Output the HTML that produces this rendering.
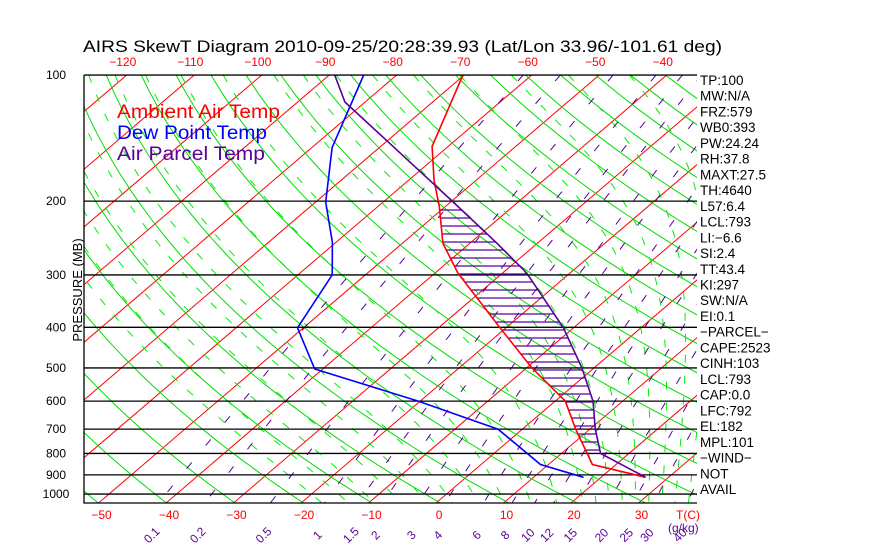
<!DOCTYPE html>
<html><head><meta charset="utf-8"><style>
body{margin:0;background:#fff;}
svg{display:block;font-family:"Liberation Sans",sans-serif;}
</style></head><body>
<svg id="chart" width="870" height="560" viewBox="0 0 870 560" xmlns="http://www.w3.org/2000/svg">
<defs><clipPath id="pc"><rect x="84" y="75" width="613" height="428"/></clipPath></defs>
<rect width="870" height="560" fill="#fff"/>
<text x="83" y="52" font-size="17" textLength="639" lengthAdjust="spacingAndGlyphs">AIRS SkewT Diagram 2010-09-25/20:28:39.93 (Lat/Lon 33.96/-101.61 deg)</text>
<g id="grid" clip-path="url(#pc)"></g>
<g id="prof" clip-path="url(#pc)"></g>
<g id="labels"></g>
<text transform="translate(82,290) rotate(-90)" font-size="13" text-anchor="middle">PRESSURE (MB)</text>
<text x="117" y="118" font-size="19" fill="#ff0000" textLength="163" lengthAdjust="spacingAndGlyphs">Ambient Air Temp</text>
<text x="117" y="139" font-size="19" fill="#0000ff" textLength="150" lengthAdjust="spacingAndGlyphs">Dew Point Temp</text>
<text x="117" y="160" font-size="19" fill="#5a0099" textLength="148" lengthAdjust="spacingAndGlyphs">Air Parcel Temp</text>
</svg>
<script>
// data
const isoTemps=[-120,-110,-100,-90,-80,-70,-60,-50,-40,-30,-20,-10,0,10,20,30,40];
const pressureLevels=[100,200,300,400,500,600,700,800,900,1000];
const dryThetaK=[220,230,240,250,260,270,280,290,300,310,320,330,340,350,360,370,380,390,400,410,420,430,440,450,460,470,480,490,500];
const moistThetaW=[-20,-16,-12,-8,-4,0,4,8,12,16,20,22,24,26,28,30,32,34,36];
const mixRatios=[0.1,0.2,0.5,1,1.5,2,3,4,6,8,10,12,15,20,25,30,40];
const topTicks=[-120,-110,-100,-90,-80,-70,-60,-50,-40];
const bottomTicks=[-50,-40,-30,-20,-10,0,10,20,30];
const tempP=[100,148,178,206,252,297,401,500,600,700,850,912];
const tempT=[-70.2,-62.4,-56.3,-50.9,-44.0,-36.6,-20.9,-9.2,1.5,7.9,16.5,26.6];
const dewP=[100,149,201,251,300,401,503,600,700,850,912];
const dewT=[-84.9,-77.0,-68.5,-60.5,-54.9,-50.9,-41.2,-20.3,-3.6,8.8,17.4];
const parP=[100,116,201,252,297,401,500,600,700,800,912];
const parT=[-89.2,-83.0,-49.6,-36.0,-26.4,-11.5,-1.8,5.6,10.8,15.8,26.6];
const sideInfo=["TP:100","MW:N/A","FRZ:579","WB0:393","PW:24.24","RH:37.8","MAXT:27.5","TH:4640","L57:6.4","LCL:793","LI:-6.6","SI:2.4","TT:43.4","KI:297","SW:N/A","EI:0.1","-PARCEL-","CAPE:2523","CINH:103","LCL:793","CAP:0.0","LFC:792","EL:182","MPL:101","-WIND-","NOT","AVAIL"];

const NS="http://www.w3.org/2000/svg";
const Y0=75, K=182, YB=503, X0=436, SX=6.75, SK=1.17;
function yP(p){return Y0+K*Math.log(p/100);}
function xT(t,p){return X0+SX*t+SK*(YB-yP(p));}
function mk(tag,attrs,parent){const e=document.createElementNS(NS,tag);for(const k in attrs)e.setAttribute(k,attrs[k]);parent.appendChild(e);return e;}
const grid=document.getElementById('grid'),prof=document.getElementById('prof'),lab=document.getElementById('labels');
const pSteps=[];for(let p=100;p<=1060;p+=10)pSteps.push(p);
function poly(pts){return pts.map(a=>a[0].toFixed(1)+','+a[1].toFixed(1)).join(' ');}

isoTemps.forEach(t=>{
  const e=mk('line',{x1:xT(t,1050),y1:yP(1050),x2:xT(t,100),y2:yP(100),stroke:'#ff0000','stroke-width':1},grid);
  
  
});
dryThetaK.forEach(th=>{
  const pts=pSteps.map(p=>[xT(th*Math.pow(p/1000,0.286)-273.15,p),yP(p)]);
  const e=mk('polyline',{points:poly(pts),fill:'none',stroke:'#00dd00','stroke-width':1},grid);
  
  
});
function es(t){return 6.112*Math.exp(17.67*t/(t+243.5));}
function ws(t,p){const e=es(t);return 0.622*e/(p-e);}
function moistGrad(t,p){const T=t+273.15,w=ws(t,p),L=2.5e6,Rd=287,cp=1005;
  return (Rd*T+L*w)/(cp+L*L*w*0.622/(Rd*T*T))/p;}
moistThetaW.forEach(tw=>{
  let t=tw,p=1000;const down=[[xT(t,p),yP(p)]];
  while(p<1060){const dp=5;t+=moistGrad(t,p)*dp;p+=dp;down.push([xT(t,p),yP(p)]);}
  t=tw;p=1000;const up=[];
  while(p>100){const dp=-5;t+=moistGrad(t,p)*dp;p+=dp;up.push([xT(t,p),yP(p)]);}
  const pts=up.reverse().concat(down);
  const e=mk('polyline',{points:poly(pts),fill:'none',stroke:'#00ee00','stroke-width':1,'stroke-dasharray':'8 13'},grid);
  
  
});
function tdFromW(w,p){const e=w*p/(622+w);const l=Math.log(e/6.112);return 243.5*l/(17.67-l);}
mixRatios.forEach(w=>{
  const pts=pSteps.map(p=>[xT(tdFromW(w,p),p),yP(p)]);
  const e=mk('polyline',{points:poly(pts),fill:'none',stroke:'#5a0099','stroke-width':1,'stroke-dasharray':'8 22'},grid);
  
  
});
pressureLevels.forEach(p=>{
  const e=mk('line',{x1:84,y1:yP(p),x2:697,y2:yP(p),stroke:'#000','stroke-width':1.3},grid);
  
  
});
function interp(P,T,p){for(let i=0;i<P.length-1;i++){if(p>=P[i]&&p<=P[i+1]){const f=Math.log(p/P[i])/Math.log(P[i+1]/P[i]);return T[i]+f*(T[i+1]-T[i]);}}return null;}
for(let y=yP(210);y<=yP(800)+0.5;y+=8){
  const p=100*Math.exp((y-Y0)/K);
  const a=interp(tempP,tempT,p),b=interp(parP,parT,p);
  if(a!==null&&b!==null&&b>a){
    const e=mk('line',{x1:xT(a,p),y1:y,x2:xT(b,p),y2:y,stroke:'#5a0099','stroke-width':1.3},prof);
    
    
  }
}
function profile(P,T,color,name){
  const e=mk('polyline',{points:poly(P.map((p,i)=>[xT(T[i],p),yP(p)])),fill:'none',stroke:color,'stroke-width':1.6},prof);
  
  
}
profile(tempP,tempT,'#ff0000','ambient-temp-line');
profile(dewP,dewT,'#0000ff','dewpoint-line');
profile(parP,parT,'#5a0099','parcel-temp-line');
const fr=mk('polyline',{points:'84,75 84,503 697,503',fill:'none',stroke:'#000','stroke-width':1.3},lab);


const tl=mk('line',{x1:84,y1:75,x2:697,y2:75,stroke:'#000','stroke-width':1.3},lab);


pressureLevels.forEach(p=>{
  const e=mk('text',{x:56,y:yP(p)+4,'font-size':12,'text-anchor':'middle'},lab);e.textContent=p;
  
  
});
topTicks.forEach(t=>{
  const e=mk('text',{x:xT(t,100)-4,y:66,'font-size':12,fill:'#ff0000','text-anchor':'middle'},lab);e.textContent=(t<0?'\u2212':'')+Math.abs(t);
  
  
});
bottomTicks.forEach(t=>{
  const e=mk('text',{x:xT(t,1050)+3,y:519,'font-size':12,fill:'#ff0000','text-anchor':'middle'},lab);e.textContent=(t<0?'\u2212':'')+Math.abs(t);
  
  
});
const tc=mk('text',{x:676,y:519,'font-size':12,fill:'#ff0000'},lab);tc.textContent='T(C)';


mixRatios.forEach(w=>{
  const x=xT(tdFromW(w,1050),1050)-4;
  const e=mk('text',{transform:`translate(${x.toFixed(1)},538) rotate(-45)`,'font-size':12,fill:'#5a0099','text-anchor':'middle'},lab);e.textContent=w;
  
  
});
const gk=mk('text',{x:668,y:532,'font-size':12,fill:'#5a0099'},lab);gk.textContent='(g/kg)';


sideInfo.forEach((s,i)=>{
  const e=mk('text',{x:700,y:85+i*15.73,'font-size':13.5},lab);e.textContent=s.replace(/-/g,'\u2212');
  
  
});
</script>
</body></html>
